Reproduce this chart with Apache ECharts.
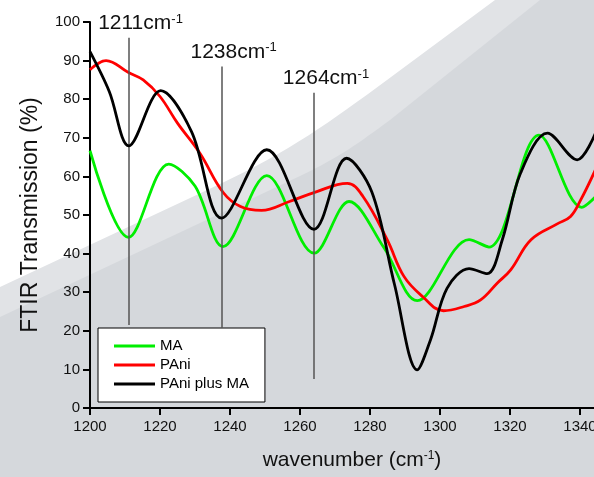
<!DOCTYPE html>
<html>
<head>
<meta charset="utf-8">
<script src="https://cdn.jsdelivr.net/npm/echarts@6/dist/echarts.min.js"></script>
<style>
html,body{margin:0;padding:0;background:#fff;}
#chart{width:594px;height:477px;}
</style>
</head>
<body>
<div id="chart"></div>
<script>
// ---- data ----
const seriesNames = ['MA', 'PAni', 'PAni plus MA'];

const maX = [1200, 1211, 1222.5, 1230, 1238, 1250.5, 1264, 1274, 1284, 1293.5, 1308.3, 1314, 1328.3, 1340.5, 1344.4];
const maY = [66.7, 44.2, 63.2, 57.5, 41.8, 60.2, 40.1, 53.5, 41.5, 27.8, 43.6, 41.7, 70.7, 52, 54.7];

const paniX = [1200, 1204.6, 1211, 1215.2, 1220, 1225, 1231.4, 1238, 1243, 1249, 1257, 1264, 1273.5, 1278, 1284.9, 1289.7, 1295, 1301, 1306.9, 1311.6, 1316.4, 1320.2, 1326, 1333.5, 1337.3, 1340.2, 1344.4];
const paniY = [87.6, 90, 86.9, 85, 80.7, 73.8, 66, 55.9, 52.2, 51.2, 53.5, 55.8, 58.2, 54.8, 43.6, 34.1, 28.9, 25.2, 26.3, 28, 32.4, 35.8, 43.6, 47.7, 49.6, 53.9, 61.7];

const mixX = [1200, 1205.5, 1211.1, 1220.2, 1229, 1237.6, 1250.5, 1264, 1273.3, 1280.5, 1287, 1293.5, 1297.3, 1302, 1308.3, 1313.5, 1317.8, 1323, 1330.7, 1339.2, 1344.4];
const mixY = [92.3, 82, 67.9, 82.2, 71.6, 49.2, 66.9, 46.3, 64.7, 56, 32, 9.9, 17.7, 31, 36.1, 34.8, 43.6, 60.8, 71.2, 64.3, 71.2];

const markerLabels = ['1211', '1238', '1264'];
const markerX = [1211, 1237.6, 1264];
const markerTop = [95.9, 88.5, 81.7];
const markerBottom = [21.5, 20.7, 7.5];

const xTicks = {min: 1200, max: 1360, interval: 20};
const yTicks = {min: 0, max: 100, interval: 10};

// ---- build ----
const zip = (xs, ys) => xs.map((x, i) => [x, ys[i]]);
const colors = ['#00ee00', '#ff0000', '#000000'];
const FONT = 'Liberation Sans, Arial, sans-serif';

// decorative background band outline (pixel space)
function bandPoints(p0, l1, c1, c2, p3, top) {
  const pts = [p0, l1];
  for (let i = 1; i <= 16; i++) {
    const t = i / 16, u = 1 - t;
    pts.push([
      u*u*u*l1[0] + 3*u*u*t*c1[0] + 3*u*t*t*c2[0] + t*t*t*p3[0],
      u*u*u*l1[1] + 3*u*u*t*c1[1] + 3*u*t*t*c2[1] + t*t*t*p3[1]
    ]);
  }
  pts.push(top, [600, 0], [600, 480], [0, 480]);
  return pts;
}

const markData = markerX.map((x, i) => [
  {coord: [x, markerTop[i]], label: {formatter: '{a|' + markerLabels[i] + 'cm}{s|-1}'}},
  {coord: [x, markerBottom[i]]}
]);

const chart = echarts.init(document.getElementById('chart'), null, {renderer: 'canvas'});
const option = {
  backgroundColor: '#ffffff',
  animation: false,
  graphic: [
    {type: 'polygon', z: -100, silent: true,
     shape: {points: bandPoints([0, 287], [220, 184], [290, 151], [330, 122], [387, 80], [495, 0])},
     style: {fill: '#e1e3e6'}},
    {type: 'polygon', z: -99, silent: true,
     shape: {points: bandPoints([0, 317], [300, 176], [340, 157], [360, 142], [390, 120], [540, 0])},
     style: {fill: '#d5d8dc'}}
  ],
  grid: {left: 90, top: 22, bottom: 69, right: -56, containLabel: false, outerBoundsMode: 'none'},
  legend: {
    orient: 'vertical', left: 98, top: 328,
    data: seriesNames,
    icon: 'rect', itemWidth: 41, itemHeight: 3, itemGap: 3,
    padding: [10, 16, 10, 16],
    backgroundColor: '#ffffff', borderColor: '#000000', borderWidth: 1,
    textStyle: {fontFamily: FONT, fontSize: 15, color: '#000', lineHeight: 16}
  },
  xAxis: {
    type: 'value', min: xTicks.min, max: xTicks.max, interval: xTicks.interval,
    name: '{n|wavenumber (cm}{s|-1}{n|)}', nameLocation: 'middle', nameGap: 42,
    nameTextStyle: {fontFamily: FONT, color: '#111', padding: [0, 36, 0, 0],
      rich: {n: {fontFamily: FONT, fontSize: 21, color: '#111'},
             s: {fontFamily: FONT, fontSize: 12, color: '#111', verticalAlign: 'top'}}},
    axisLine: {lineStyle: {color: '#000', width: 2}},
    axisTick: {length: 7, lineStyle: {color: '#000', width: 2}},
    axisLabel: {fontFamily: FONT, fontSize: 15, color: '#111', margin: 11, formatter: v => String(v)},
    splitLine: {show: false}
  },
  yAxis: {
    type: 'value', min: yTicks.min, max: yTicks.max, interval: yTicks.interval,
    name: 'FTIR Transmission (%)', nameLocation: 'middle', nameGap: 48,
    nameTextStyle: {fontFamily: FONT, fontSize: 23, color: '#111'},
    axisLine: {show: true, lineStyle: {color: '#000', width: 2}},
    axisTick: {show: true, length: 7, lineStyle: {color: '#000', width: 2}},
    axisLabel: {fontFamily: FONT, fontSize: 15, color: '#111', margin: 10, formatter: v => String(v)},
    splitLine: {show: false}
  },
  series: [
    {name: seriesNames[0], type: 'line', data: zip(maX, maY), smooth: 0.34, showSymbol: false,
     lineStyle: {color: colors[0], width: 2.8}, itemStyle: {color: colors[0]}, z: 3},
    {name: seriesNames[1], type: 'line', data: zip(paniX, paniY), smooth: 0.4, showSymbol: false,
     lineStyle: {color: colors[1], width: 2.8}, itemStyle: {color: colors[1]}, z: 4},
    {name: seriesNames[2], type: 'line', data: zip(mixX, mixY), smooth: 0.34, showSymbol: false,
     lineStyle: {color: colors[2], width: 2.8}, itemStyle: {color: colors[2]}, z: 5,
     markLine: {
       silent: true, symbol: 'none', animation: false,
       lineStyle: {color: '#555', width: 1.5, type: 'solid'},
       label: {show: true, position: 'start', distance: 4, offset: [12, 0],
         rich: {a: {fontFamily: FONT, fontSize: 21, color: '#111'},
                s: {fontFamily: FONT, fontSize: 13, color: '#111', verticalAlign: 'top'}}},
       data: markData
     }}
  ]
};
chart.setOption(option);
</script>
</body>
</html>
